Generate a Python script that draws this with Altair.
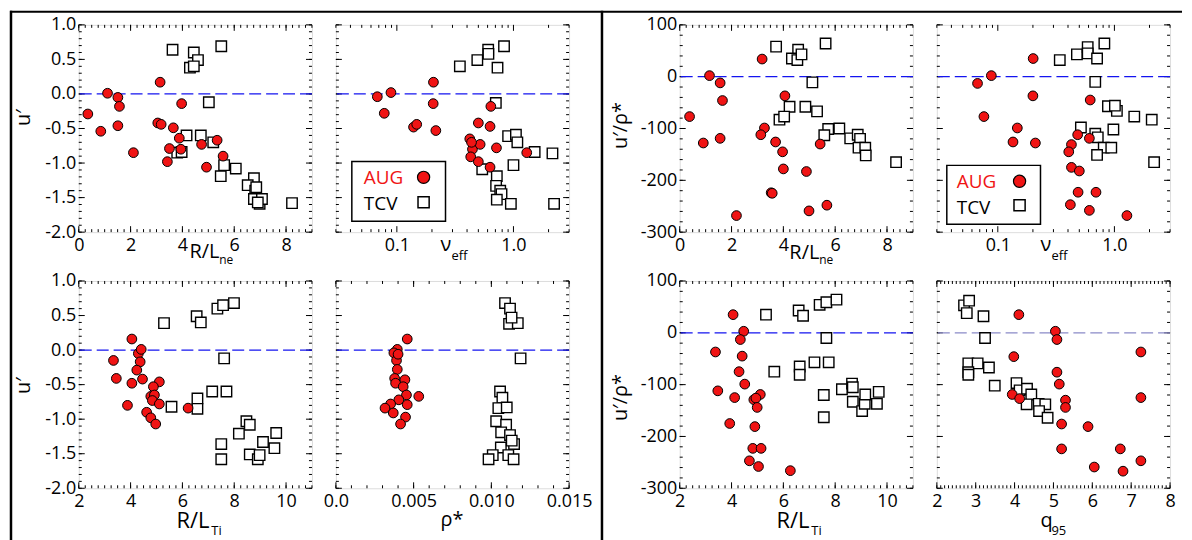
import altair as alt
import pandas as pd

FONT = "Open Sans"
W, H = 234, 208
RED = "#f01414"
BLUE = "#1414f0"
PALE = "#8a8ac8"

# ---------------- data ----------------
# Panel 1: u' vs R/L_ne
aug1_x = [0.35, 0.85, 1.11, 1.51, 1.57, 1.51, 2.11, 3.14, 3.05, 3.18, 3.42, 3.50, 3.65, 3.88, 3.97, 3.94, 4.74, 4.93, 5.34, 5.57]
aug1_y = [-0.29, -0.54, 0.01, -0.05, -0.18, -0.46, -0.85, 0.17, -0.42, -0.44, -0.98, -0.79, -0.49, -0.64, -0.14, -0.80, -0.73, -1.06, -0.67, -0.90]
tcv1_x = [3.62, 4.44, 4.60, 4.29, 4.44, 5.50, 5.02, 4.16, 4.71, 5.19, 3.80, 3.97, 5.61, 5.48, 6.06, 6.76, 6.52, 6.81, 6.76, 6.98, 7.07, 8.23, 6.85, 6.91]
tcv1_y = [0.64, 0.60, 0.49, 0.38, 0.40, 0.69, -0.12, -0.60, -0.60, -0.70, -0.85, -0.84, -1.03, -1.19, -1.08, -1.22, -1.32, -1.40, -1.52, -1.59, -1.52, -1.58, -1.35, -1.57]

# Panel 2: u' vs nu_eff
aug2_x = [0.068, 0.089, 0.078, 0.139, 0.148, 0.206, 0.205, 0.216, 0.50, 0.64, 0.63, 0.422, 0.445, 0.518, 0.43, 0.50, 0.63, 0.715, 1.30, 0.437]
aug2_y = [-0.04, 0.02, -0.28, -0.48, -0.44, 0.17, -0.14, -0.53, -0.42, -0.18, -0.47, -0.65, -0.80, -0.73, -0.91, -0.98, -1.06, -0.78, -0.85, -0.70]
tcv2_x = [0.347, 0.49, 0.607, 0.61, 0.73, 0.83, 0.706, 0.90, 1.05, 1.08, 1.52, 2.16, 1.00, 0.54, 0.72, 0.71, 0.77, 0.79, 0.72, 0.95, 2.23]
tcv2_y = [0.40, 0.49, 0.64, 0.58, 0.38, 0.69, -0.13, -0.61, -0.59, -0.70, -0.84, -0.86, -1.03, -1.09, -1.19, -1.33, -1.40, -1.45, -1.53, -1.59, -1.59]

# Panel 3: u' vs R/L_Ti
aug3_x = [3.34, 3.45, 4.05, 4.05, 3.88, 4.30, 4.41, 4.37, 4.24, 4.46, 5.11, 4.88, 4.78, 4.92, 4.84, 5.11, 4.62, 4.78, 4.97, 6.22]
aug3_y = [-0.15, -0.41, 0.16, -0.48, -0.80, -0.05, 0.01, -0.17, -0.29, -0.42, -0.46, -0.53, -0.67, -0.65, -0.73, -0.78, -0.90, -0.98, -1.07, -0.84]
tcv3_x = [5.29, 6.55, 6.71, 7.35, 7.57, 7.99, 7.61, 7.15, 7.70, 6.58, 6.58, 5.58, 8.47, 8.60, 8.18, 7.50, 7.50, 8.60, 8.91, 8.98, 9.11, 9.62, 9.55]
tcv3_y = [0.39, 0.49, 0.40, 0.60, 0.65, 0.68, -0.12, -0.60, -0.60, -0.70, -0.85, -0.82, -1.03, -1.08, -1.21, -1.36, -1.58, -1.51, -1.58, -1.52, -1.33, -1.20, -1.42]

# Panel 4: u' vs rho*
aug4_x = [0.00459, 0.00395, 0.00373, 0.00390, 0.00395, 0.00378, 0.00444, 0.00384, 0.00433, 0.00454, 0.00533, 0.00405, 0.00459, 0.00352, 0.00316, 0.00369, 0.00448, 0.00416, 0.00400]
aug4_y = [0.16, 0.01, -0.04, -0.15, -0.28, -0.41, -0.43, -0.48, -0.53, -0.65, -0.67, -0.72, -0.79, -0.78, -0.84, -0.91, -0.97, -1.07, -0.06]
tcv4_x = [0.01088, 0.01120, 0.01114, 0.01170, 0.01130, 0.01188, 0.01056, 0.01071, 0.01045, 0.01099, 0.01031, 0.01095, 0.01063, 0.01120, 0.01146, 0.01061, 0.01009, 0.00982, 0.01109, 0.01143, 0.01131]
tcv4_y = [0.68, 0.60, 0.38, 0.39, 0.47, -0.12, -0.60, -0.69, -0.84, -0.83, -1.03, -1.08, -1.19, -1.23, -1.36, -1.41, -1.52, -1.58, -1.52, -1.58, -1.31]

# Panel 5: u'/rho* vs R/L_ne
aug5_x = [0.38, 0.91, 1.15, 1.56, 1.65, 1.56, 2.19, 3.18, 3.27, 3.13, 3.53, 3.57, 3.70, 3.97, 4.00, 4.06, 4.89, 4.99, 5.42, 5.68]
aug5_y = [-77, -128, 2, -12, -46, -119, -268, 34, -99, -112, -224, -225, -126, -145, -178, -37, -183, -259, -130, -248]
tcv5_x = [3.72, 4.57, 4.33, 4.54, 4.70, 5.63, 5.12, 4.24, 4.85, 5.30, 3.85, 4.03, 5.73, 5.58, 6.16, 6.58, 6.87, 6.96, 6.90, 7.16, 7.18, 8.35]
tcv5_y = [58, 52, 35, 32, 43, 64, -11, -58, -58, -67, -83, -77, -101, -113, -100, -119, -112, -120, -137, -137, -152, -165]

# Panel 6: u'/rho* vs nu_eff
aug6_x = [0.067, 0.088, 0.076, 0.201, 0.200, 0.147, 0.135, 0.210, 0.62, 0.484, 0.61, 0.428, 0.406, 0.428, 0.50, 0.488, 0.695, 0.419, 0.61, 1.28]
aug6_y = [-13, 2, -77, 35, -37, -99, -126, -128, -45, -112, -119, -131, -145, -175, -182, -223, -223, -247, -258, -268]
tcv6_x = [0.34, 0.477, 0.59, 0.59, 0.71, 0.82, 0.685, 0.88, 1.05, 1.01, 1.48, 2.09, 0.516, 0.685, 0.72, 0.98, 0.81, 0.94, 0.71, 2.19]
tcv6_y = [32, 43, 57, 45, 35, 64, -10, -57, -66, -56, -77, -83, -98, -110, -117, -102, -137, -137, -151, -165]

# Panel 7: u'/rho* vs R/L_Ti
aug7_x = [4.06, 4.47, 4.34, 3.38, 4.41, 4.29, 4.51, 3.47, 4.12, 5.11, 4.86, 4.94, 4.99, 4.90, 3.93, 4.82, 5.14, 4.69, 5.04, 6.27]
aug7_y = [35, 3, -13, -37, -45, -75, -99, -112, -125, -119, -129, -126, -144, -181, -175, -223, -223, -247, -258, -266]
tcv7_x = [5.33, 6.59, 6.76, 7.40, 7.66, 8.05, 7.66, 7.20, 7.75, 6.63, 6.63, 5.65, 8.26, 8.65, 8.68, 7.56, 7.56, 8.68, 9.04, 9.14, 9.16, 9.68, 9.61]
tcv7_y = [35, 43, 33, 54, 59, 64, -10, -57, -57, -65, -81, -75, -109, -98, -105, -120, -163, -133, -151, -137, -119, -114, -137]

# Panel 8: u'/rho* vs q95
aug8_x = [4.11, 5.05, 5.09, 3.98, 7.25, 5.09, 5.15, 3.94, 4.13, 5.31, 5.31, 7.25, 5.21, 5.89, 5.21, 6.72, 7.25, 6.05, 6.79]
aug8_y = [35, 3, -13, -46, -37, -76, -99, -119, -127, -130, -144, -125, -176, -181, -224, -224, -247, -259, -267]
tcv8_x = [2.70, 2.83, 2.77, 3.20, 3.24, 2.81, 3.05, 3.34, 2.81, 2.81, 3.49, 4.05, 4.13, 4.32, 4.43, 4.31, 4.62, 4.79, 4.63, 4.85]
tcv8_y = [53, 62, 38, 32, -10, -59, -59, -67, -76, -81, -102, -97, -111, -108, -119, -138, -137, -138, -151, -164]

# ---------------- axis tick definitions ----------------
def steps(lo, hi, step):
    n = int(round((hi - lo) / step))
    return [round(lo + i * step, 6) for i in range(n + 1)]

U_MAJ, U_MIN = steps(-2.0, 1.0, 0.5), steps(-2.0, 1.0, 0.1)
R_MAJ, R_MIN = steps(-300, 100, 100), steps(-300, 100, 20)
NE_MAJ, NE_MIN = [0, 2, 4, 6, 8], steps(0, 9, 0.25)
TI_MAJ, TI_MIN = [2, 4, 6, 8, 10], steps(2, 11, 0.25)
NU_MAJ = [0.1, 1.0]
NU_MIN = [0.03, 0.04, 0.05, 0.06, 0.07, 0.08, 0.09, 0.2, 0.3, 0.4, 0.5, 0.6, 0.7, 0.8, 0.9, 2.0, 3.0]
RHO_MAJ, RHO_MIN = [0, 0.005, 0.01, 0.015], steps(0, 0.015, 0.001)
Q_MAJ, Q_MIN = steps(2, 8, 1), steps(2, 8, 0.1)

U_LAB = "(datum.value < 0 ? '-' : '') + format(abs(datum.value), '.1f')"
R_LAB = "(datum.value < 0 ? '-' : '') + format(abs(datum.value), 'd')"
INT_LAB = "format(datum.value, 'd')"
LOG_LAB = "format(datum.value, '.1f')"
RHO_LAB = "datum.value == 0 ? '0.0' : format(datum.value, '.3f')"

ONE = pd.DataFrame({"k": [0]})
MAJ_LEN, MIN_LEN = 6, 3


def text(s, x, y, size=20, color="black", angle=0, align="left"):
    mk = dict(text=s, font=FONT, fontSize=size, color=color, align=align,
              baseline="alphabetic")
    if angle:
        mk["angle"] = angle
    return alt.Chart(ONE).mark_text(**mk).encode(x=alt.value(x), y=alt.value(y))


def hline(x1, x2, y, w=2):
    return alt.Chart(ONE).mark_rule(color="black", strokeWidth=w).encode(
        x=alt.value(x1), x2=alt.value(x2), y=alt.value(y))


def vline(x, y1, y2, w=2.5):
    return alt.Chart(ONE).mark_rule(color="black", strokeWidth=w).encode(
        x=alt.value(x), y=alt.value(y1), y2=alt.value(y2))


def legend(x1, y1, x2, y2, tx, ty1, ty2, sx, sy1, sy2):
    box = alt.Chart(ONE).mark_rect(fillOpacity=0, stroke="black", strokeWidth=1.5).encode(
        x=alt.value(x1), x2=alt.value(x2), y=alt.value(y1), y2=alt.value(y2))
    circ = alt.Chart(ONE).mark_point(shape="circle", filled=True, fill=RED, stroke="black",
                                     strokeWidth=1.2, size=150, opacity=1).encode(
        x=alt.value(sx), y=alt.value(sy1))
    sq = alt.Chart(ONE).mark_point(shape="square", filled=True, fill="white", stroke="black",
                                   strokeWidth=1.5, size=125, opacity=1).encode(
        x=alt.value(sx), y=alt.value(sy2))
    return [box, text("AUG", tx, ty1, size=19, color=RED), circ,
            text("TCV", tx, ty2, size=19), sq]


def panel(ax, ay, tx, ty, xdom, ydom, xlog, xmaj, xmin, ymaj, ymin,
          xlab, ylab, ylabels, zcolor, extras):
    if xlog:
        xs = alt.Scale(type="log", domain=xdom, nice=False)
    else:
        xs = alt.Scale(domain=xdom, nice=False, zero=False)
    ys = alt.Scale(domain=ydom, nice=False, zero=False)
    dummy = pd.DataFrame({"x": xdom, "y": ydom})
    main_x = alt.Axis(orient="bottom", values=xmaj, labelExpr=xlab, ticks=False,
                      domain=False, grid=False, title=None, labelFont=FONT,
                      labelFontSize=18, labelColor="black", labelPadding=4,
                      labelFlush=False, labelOverlap=False)
    main_y = alt.Axis(orient="left", values=ymaj, labelExpr=ylab, labels=ylabels,
                      ticks=False, domain=False, grid=False, title=None,
                      labelFont=FONT, labelFontSize=18, labelColor="black",
                      labelPadding=3, labelOverlap=False)

    def xtick(vals, length, top):
        y1, y2 = (0, length) if top else (H, H - length)
        return alt.Chart(pd.DataFrame({"v": vals})).mark_rule(
            color="black", strokeWidth=1).encode(
            x=alt.X("v:Q", scale=xs, axis=None), y=alt.value(y1), y2=alt.value(y2))

    def ytick(vals, length, right):
        x1, x2 = (W, W - length) if right else (0, length)
        return alt.Chart(pd.DataFrame({"v": vals})).mark_rule(
            color="black", strokeWidth=1).encode(
            y=alt.Y("v:Q", scale=ys, axis=None), x=alt.value(x1), x2=alt.value(x2))

    layers = [
        alt.Chart(dummy).mark_point(opacity=0).encode(
            x=alt.X("x:Q", scale=xs, axis=main_x), y=alt.Y("y:Q", scale=ys, axis=main_y)),
        xtick(xmin, MIN_LEN, False), xtick(xmaj, MAJ_LEN, False),
        xtick(xmin, MIN_LEN, True), xtick(xmaj, MAJ_LEN, True),
        ytick(ymin, MIN_LEN, False), ytick(ymaj, MAJ_LEN, False),
        ytick(ymin, MIN_LEN, True), ytick(ymaj, MAJ_LEN, True),
        alt.Chart(pd.DataFrame({"y": [0]})).mark_rule(
            color=zcolor, strokeDash=[12, 5], strokeWidth=1.3).encode(
            y=alt.Y("y:Q", scale=ys, axis=None)),
        alt.Chart(pd.DataFrame({"x": tx, "y": ty})).mark_point(
            shape="square", filled=True, fill="white", stroke="black",
            strokeWidth=1.4, size=110, opacity=1).encode(
            x=alt.X("x:Q", scale=xs, axis=None), y=alt.Y("y:Q", scale=ys, axis=None)),
        alt.Chart(pd.DataFrame({"x": ax, "y": ay})).mark_point(
            shape="circle", filled=True, fill=RED, stroke="black",
            strokeWidth=1, size=95, opacity=1).encode(
            x=alt.X("x:Q", scale=xs, axis=None), y=alt.Y("y:Q", scale=ys, axis=None)),
    ] + extras
    return alt.layer(*layers).properties(width=W, height=H).resolve_axis(
        x="independent", y="independent")


p1 = panel(aug1_x, aug1_y, tcv1_x, tcv1_y, [0, 9], [-2, 1], False, NE_MAJ, NE_MIN,
           U_MAJ, U_MIN, INT_LAB, U_LAB, True, BLUE,
           [text("R/L", 111, 234), text("ne", 141, 240, size=12),
            text("u′", -48.5, 93, angle=270, align="center"),
            hline(-69, 1107, -13.2), vline(-68, -14.2, 518)])
p2 = panel(aug2_x, aug2_y, tcv2_x, tcv2_y, [0.03, 3], [-2, 1], True, NU_MAJ, NU_MIN,
           U_MAJ, U_MIN, LOG_LAB, U_LAB, False, BLUE,
           [text("ν", 105, 227), text("eff", 116, 236, size=13)]
           + legend(16, 137, 110, 197, 28, 160, 186, 88, 153, 178))
p3 = panel(aug3_x, aug3_y, tcv3_x, tcv3_y, [2, 11], [-2, 1], False, TI_MAJ, TI_MIN,
           U_MAJ, U_MIN, INT_LAB, U_LAB, True, BLUE,
           [text("R/L", 98, 248, size=22), text("Ti", 133, 255, size=13),
            text("u′", -48.5, 105, angle=270, align="center")])
p4 = panel(aug4_x, aug4_y, tcv4_x, tcv4_y, [0, 0.015], [-2, 1], False, RHO_MAJ, RHO_MIN,
           U_MAJ, U_MIN, RHO_LAB, U_LAB, False, BLUE,
           [text("ρ*", 105, 246)])
p5 = panel(aug5_x, aug5_y, tcv5_x, tcv5_y, [0, 9], [-300, 100], False, NE_MAJ, NE_MIN,
           R_MAJ, R_MIN, INT_LAB, R_LAB, True, BLUE,
           [text("R/L", 110, 235), text("ne", 140, 240, size=12),
            text("u′/ρ*", -53, 101, angle=270, align="center")])
p6 = panel(aug6_x, aug6_y, tcv6_x, tcv6_y, [0.03, 3], [-300, 100], True, NU_MAJ, NU_MIN,
           R_MAJ, R_MIN, LOG_LAB, R_LAB, False, BLUE,
           [text("ν", 104, 227), text("eff", 115, 236, size=13)]
           + legend(10, 141, 104, 200, 20, 164, 190, 83, 157, 181))
p7 = panel(aug7_x, aug7_y, tcv7_x, tcv7_y, [2, 11], [-300, 100], False, TI_MAJ, TI_MIN,
           R_MAJ, R_MIN, INT_LAB, R_LAB, True, BLUE,
           [text("R/L", 97, 248, size=22), text("Ti", 132, 255, size=13),
            text("u′/ρ*", -53, 117, angle=270, align="center")])
p8 = panel(aug8_x, aug8_y, tcv8_x, tcv8_y, [2, 8], [-300, 100], False, Q_MAJ, Q_MIN,
           R_MAJ, R_MIN, INT_LAB, R_LAB, False, PALE,
           [text("q", 104, 247), text("95", 115, 255, size=13)])

GAP = 63
sp1 = alt.layer(vline(9, -14.2, 518)).properties(
    width=GAP, height=H, view=alt.ViewBackground(stroke="transparent"))
sp2 = alt.layer(alt.Chart(ONE).mark_rule(opacity=0).encode(
    x=alt.value(0), y=alt.value(0), y2=alt.value(1))).properties(
    width=GAP, height=H, view=alt.ViewBackground(stroke="transparent"))

chart = alt.concat(p1, p2, sp1, p5, p6, p3, p4, sp2, p7, p8, columns=5,
                   spacing={"row": 49, "column": 24}, bounds="flush", align="each").properties(
    padding={"left": 0, "top": 0, "right": 0, "bottom": 0}
).configure_view(stroke="black", strokeWidth=1.2).configure(font=FONT)

chart.save("out.html", embed_options={"renderer": "svg", "actions": False})
